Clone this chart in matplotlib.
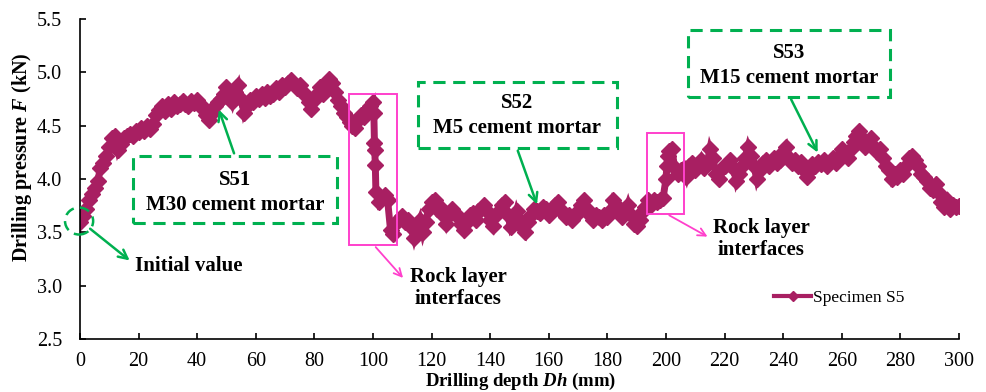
import numpy as np
import matplotlib
matplotlib.use("Agg")
import matplotlib.pyplot as plt
from matplotlib.patches import Rectangle, Ellipse

plt.rcParams['font.family'] = ['Liberation Serif', 'DejaVu Serif']
plt.rcParams['mathtext.fontset'] = 'custom'
plt.rcParams['mathtext.rm'] = 'Liberation Serif'
plt.rcParams['mathtext.bf'] = 'Liberation Serif:bold'
plt.rcParams['mathtext.bfit'] = 'Liberation Serif:italic:bold'

# --- data: drilling pressure (kN) read at every 1 mm of depth ---
depth_mm = list(range(0, 301))
force_kn = [
    3.60, 3.65, 3.72, 3.80, 3.86, 3.92, 3.98, 4.10, 4.15, 4.22,
    4.30, 4.38, 4.40, 4.27, 4.33, 4.38, 4.40, 4.42, 4.40, 4.45,
    4.44, 4.48, 4.45, 4.50, 4.47, 4.52, 4.60, 4.65, 4.68, 4.64,
    4.70, 4.66, 4.72, 4.68, 4.70, 4.73, 4.70, 4.68, 4.73, 4.71,
    4.74, 4.70, 4.66, 4.60, 4.55, 4.62, 4.68, 4.72, 4.75, 4.80,
    4.86, 4.80, 4.72, 4.82, 4.88, 4.75, 4.62, 4.68, 4.74, 4.72,
    4.78, 4.75, 4.80, 4.76, 4.82, 4.78, 4.80, 4.85, 4.82, 4.88,
    4.86, 4.90, 4.93, 4.89, 4.85, 4.88, 4.82, 4.78, 4.72, 4.66,
    4.74, 4.80, 4.86, 4.80, 4.88, 4.94, 4.90, 4.82, 4.74, 4.68,
    4.62, 4.58, 4.53, 4.50, 4.48, 4.55, 4.60, 4.58, 4.65, 4.68,
    4.72, 3.88, 3.78, 3.82, 3.85, 3.80, 3.52, 3.48, 3.60, 3.62,
    3.65, 3.60, 3.62, 3.55, 3.45, 3.55, 3.62, 3.50, 3.60, 3.72,
    3.78, 3.80, 3.72, 3.74, 3.66, 3.58, 3.66, 3.72, 3.68, 3.64,
    3.58, 3.52, 3.60, 3.66, 3.68, 3.62, 3.70, 3.72, 3.76, 3.70,
    3.62, 3.56, 3.66, 3.70, 3.76, 3.78, 3.66, 3.55, 3.60, 3.70,
    3.62, 3.55, 3.50, 3.60, 3.66, 3.72, 3.70, 3.68, 3.74, 3.72,
    3.66, 3.72, 3.76, 3.78, 3.72, 3.68, 3.64, 3.66, 3.62, 3.65,
    3.70, 3.76, 3.80, 3.72, 3.66, 3.62, 3.66, 3.64, 3.62, 3.66,
    3.64, 3.70, 3.80, 3.76, 3.70, 3.64, 3.68, 3.76, 3.66, 3.58,
    3.56, 3.62, 3.70, 3.74, 3.80, 3.76, 3.80, 3.78, 3.80, 3.82,
    4.00, 4.26, 4.28, 4.10, 4.05, 4.08, 4.10, 4.02, 4.12, 4.15,
    4.08, 4.12, 4.18, 4.10, 4.14, 4.28, 4.20, 4.05, 4.00, 4.10,
    4.12, 4.15, 4.18, 4.10, 3.98, 4.05, 4.12, 4.20, 4.30, 4.22,
    4.12, 4.00, 4.08, 4.15, 4.18, 4.12, 4.16, 4.20, 4.15, 4.18,
    4.25, 4.30, 4.20, 4.15, 4.18, 4.12, 4.16, 4.08, 4.02, 4.08,
    4.14, 4.12, 4.16, 4.14, 4.18, 4.12, 4.16, 4.20, 4.15, 4.22,
    4.28, 4.24, 4.20, 4.28, 4.35, 4.40, 4.45, 4.38, 4.30, 4.35,
    4.38, 4.30, 4.25, 4.28, 4.20, 4.12, 4.08, 4.00, 4.05, 4.02,
    4.08, 4.05, 4.12, 4.20, 4.22, 4.18, 4.12, 4.05, 4.02, 3.98,
    3.92, 3.90, 3.95, 3.88, 3.78, 3.74, 3.80, 3.72, 3.76, 3.74,
    3.75,
]
# extra readings on the two steep jumps (rock layer interfaces)
jump_depth = [100.3, 100.5, 100.6, 100.8, 200.3, 200.6]
jump_force = [4.62, 4.34, 4.27, 4.13, 4.12, 4.22]

depth = np.array(depth_mm + jump_depth, dtype=float)
force = np.array(force_kn + jump_force)
order = np.argsort(depth, kind='stable')
depth, force = depth[order], force[order]

line_color = '#A81F62'
green = '#00B050'
pink = '#FF40CC'

fig = plt.figure(figsize=(9.86, 3.92), dpi=100)
ax = fig.add_axes([0.0811, 0.1352, 0.8915, 0.8163])

ax.plot(depth, force, color=line_color, lw=5, marker='D', ms=8,
        mec=line_color, mfc=line_color, label='Specimen S5', solid_joinstyle='miter')

ax.set_xlim(0, 300)
ax.set_ylim(2.5, 5.5)
ax.set_xticks(np.arange(0, 301, 20))
ax.set_yticks(np.arange(2.5, 5.51, 0.5))
ax.yaxis.set_major_formatter(matplotlib.ticker.FormatStrFormatter('%.1f'))
ax.tick_params(axis='y', direction='in', length=4, width=1.2, labelsize=14.5, pad=13)
ax.tick_params(axis='x', direction='in', length=4, width=1.2, labelsize=14.5, pad=9)
for s in ['top', 'right']:
    ax.spines[s].set_visible(False)
for s in ['left', 'bottom']:
    ax.spines[s].set_linewidth(1.2)

fig.text(0.022, 0.60, r'Drilling pressure $\mathbfit{F}$ (kN)', rotation=90,
         ha='center', va='center', fontsize=14.5, fontweight='bold')
fig.text(0.528, 0.026, r'Drilling depth $\mathbfit{Dh}$ (mm)',
         ha='center', va='center', fontsize=13.5, fontweight='bold')

leg = ax.legend(loc='center left', bbox_to_anchor=(0.79, 0.128), frameon=False,
                handlelength=2.1, handletextpad=0.1, borderpad=0, borderaxespad=0,
                numpoints=1, fontsize=12.5)
for h in leg.legend_handles:
    h.set_markersize(5)
    h.set_linewidth(3)

# green dashed boxes with material labels
box_kw = dict(fill=False, ec=green, lw=2.2, ls=(0, (4, 2.5)), clip_on=False)
tkw = dict(ha='center', va='center', fontsize=15, fontweight='bold')
arr_g = dict(arrowstyle='->', color=green, lw=1.8, mutation_scale=16)

ax.add_patch(Rectangle((18.1, 3.587), 69.6, 0.629, **box_kw))
ax.text(52.9, 3.99, 'S51', **tkw)
ax.text(52.9, 3.756, 'M30 cement mortar', **tkw)
ax.annotate('', xy=(47.1, 4.675), xytext=(52.9, 4.216), arrowprops=arr_g)

ax.add_patch(Rectangle((115.4, 4.29), 67.9, 0.619, **box_kw))
ax.text(149.1, 4.712, 'S52', **tkw)
ax.text(149.1, 4.478, 'M5 cement mortar', **tkw)
ax.annotate('', xy=(156.3, 3.737), xytext=(149.1, 4.29), arrowprops=arr_g)

ax.add_patch(Rectangle((207.5, 4.769), 69.0, 0.628, **box_kw))
ax.text(242.0, 5.181, 'S53', **tkw)
ax.text(242.0, 4.947, 'M15 cement mortar', **tkw)
ax.annotate('', xy=(252.2, 4.225), xytext=(242.3, 4.769), arrowprops=arr_g)

# initial value
ax.add_patch(Ellipse((-0.3, 3.606), 9.6, 0.253, fill=False, ec=green, lw=1.8,
                     ls=(0, (4, 2.5)), clip_on=False, zorder=3))
ax.annotate('', xy=(17.7, 3.22), xytext=(2.73, 3.55), arrowprops=arr_g)
ax.text(18.8, 3.184, 'Initial value', ha='left', va='center', fontsize=15,
        fontweight='bold')

# rock layer interfaces
arr_p = dict(arrowstyle='->', color=pink, lw=1.3, mutation_scale=14)
ax.add_patch(Rectangle((91.8, 3.381), 16.4, 1.416, fill=False, ec=pink, lw=1.4, zorder=3))
ax.annotate('', xy=(110.9, 3.053), xytext=(100.3, 3.381), arrowprops=arr_p)
ax.text(129.0, 2.98, 'Rock layer\ninterfaces', ha='center', va='center',
        fontsize=15, fontweight='bold', linespacing=1.15)

ax.add_patch(Rectangle((193.5, 3.672), 12.6, 0.759, fill=False, ec=pink, lw=1.4, zorder=3))
ax.annotate('', xy=(215.0, 3.447), xytext=(200.3, 3.672), arrowprops=arr_p)
ax.text(232.5, 3.437, 'Rock layer\ninterfaces', ha='center', va='center',
        fontsize=15, fontweight='bold', linespacing=1.15)

fig.savefig('out.png', dpi=100)
